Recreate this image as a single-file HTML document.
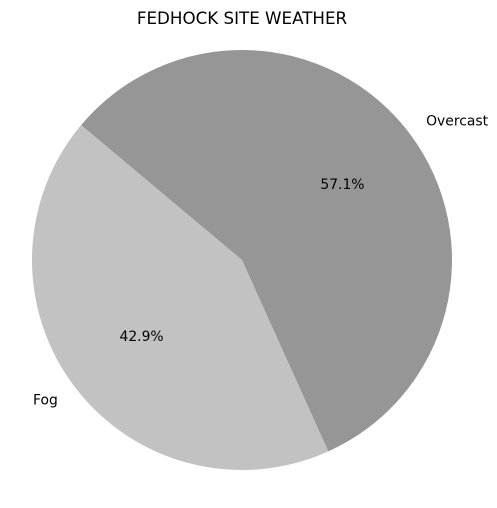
<!DOCTYPE html>
<html><head><meta charset="utf-8"><style>
body{margin:0;background:#fff;font-family:"DejaVu Sans","Liberation Sans",sans-serif}
</style></head><body>
<svg id="chart" width="497" height="504" xmlns="http://www.w3.org/2000/svg" font-family="DejaVu Sans, Liberation Sans, sans-serif">
<text x="242" y="24" text-anchor="middle" font-size="16.7" fill="#000">FEDHOCK SITE WEATHER</text>
</svg>
<script>
const categories = ["Fog", "Overcast"];
const values = [3, 4];
const colors = ["#c2c2c2", "#969696"];
const startAngle = 140;
const cx = 242, cy = 260, r = 210;
const svg = document.getElementById('chart');
const NS = 'http://www.w3.org/2000/svg';
const total = values.reduce((a,b)=>a+b,0);
function pt(deg, rad){const a=deg*Math.PI/180;return [cx+rad*Math.cos(a), cy-rad*Math.sin(a)];}
let ang = startAngle;
values.forEach((v,i)=>{
  const sweep = v/total*360;
  const a0=ang, a1=ang+sweep;
  const p0=pt(a0,r), p1=pt(a1,r);
  const path=document.createElementNS(NS,'path');
  path.setAttribute('d',`M${cx},${cy} L${p0[0]},${p0[1]} A${r},${r} 0 ${sweep>180?1:0} 0 ${p1[0]},${p1[1]} Z`);
  path.setAttribute('fill',colors[i]);
  
  
  svg.appendChild(path);
  const mid=(a0+a1)/2;
  const lp=pt(mid,r*1.1);
  const lab=document.createElementNS(NS,'text');
  lab.setAttribute('x',lp[0]);lab.setAttribute('y',lp[1]+5);
  lab.setAttribute('font-size','13.9');
  lab.setAttribute('text-anchor',Math.cos(mid*Math.PI/180)<0?'end':'start');
  lab.textContent=categories[i];
  
  
  svg.appendChild(lab);
  const pp=pt(mid,r*0.6);
  const pc=document.createElementNS(NS,'text');
  pc.setAttribute('x',pp[0]);pc.setAttribute('y',pp[1]+5);
  pc.setAttribute('font-size','13.9');pc.setAttribute('text-anchor','middle');
  pc.textContent=(v/total*100).toFixed(1)+'%';
  
  
  svg.appendChild(pc);
  ang=a1;
});
</script>
</body></html>
